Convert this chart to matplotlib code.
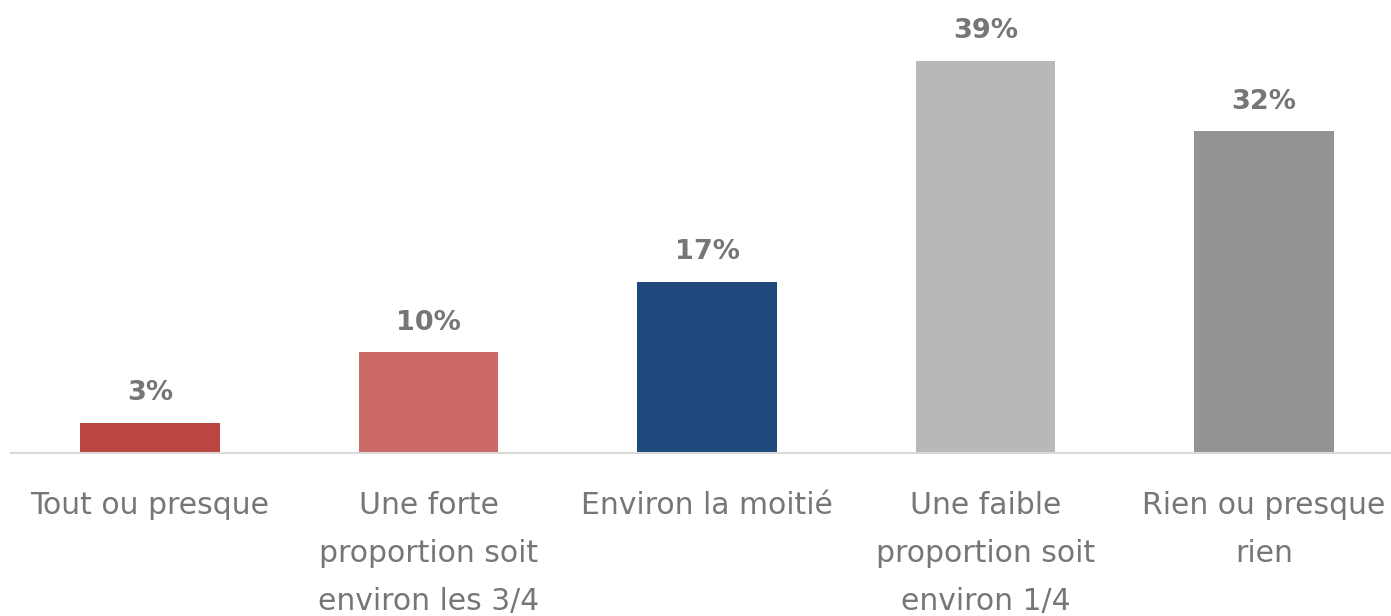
import matplotlib.pyplot as plt

categories = [
    "Tout ou presque",
    "Une forte\nproportion soit\nenviron les 3/4",
    "Environ la moitié",
    "Une faible\nproportion soit\nenviron 1/4",
    "Rien ou presque\nrien",
]
values = [3, 10, 17, 39, 32]
labels = ["3%", "10%", "17%", "39%", "32%"]
colors = ["#BB4641", "#CB6A66", "#1F497D", "#B7B8BA", "#939393"]

plt.rcParams['font.family'] = ['DejaVu Sans']

fig = plt.figure(figsize=(13.91, 6.16), dpi=100)
ax = fig.add_axes([10.75 / 1391, 163 / 616, 1392.5 / 1391, 453 / 616])

x = range(len(values))
bars = ax.bar(x, values, width=0.5, color=colors)
for b, lab in zip(bars, labels):
    ax.annotate(lab, (b.get_x() + b.get_width() / 2, b.get_height()),
                xytext=(0, 12), textcoords='offset points',
                ha='center', va='bottom', fontsize=19.5, fontweight='bold',
                color='#767676')

ax.set_xlim(-0.5, 4.5)
ax.set_ylim(0, 45.07)
ax.set_xticks(list(x))
ax.set_xticklabels(categories, fontsize=21.5, color='#767676', linespacing=1.82)
ax.tick_params(axis='x', length=0, pad=27.5)
ax.set_yticks([])
for s in ['top', 'right', 'left']:
    ax.spines[s].set_visible(False)
ax.spines['bottom'].set_color('#D9D9D9')
ax.spines['bottom'].set_linewidth(1.5)

fig.savefig('out.png', dpi=100)
